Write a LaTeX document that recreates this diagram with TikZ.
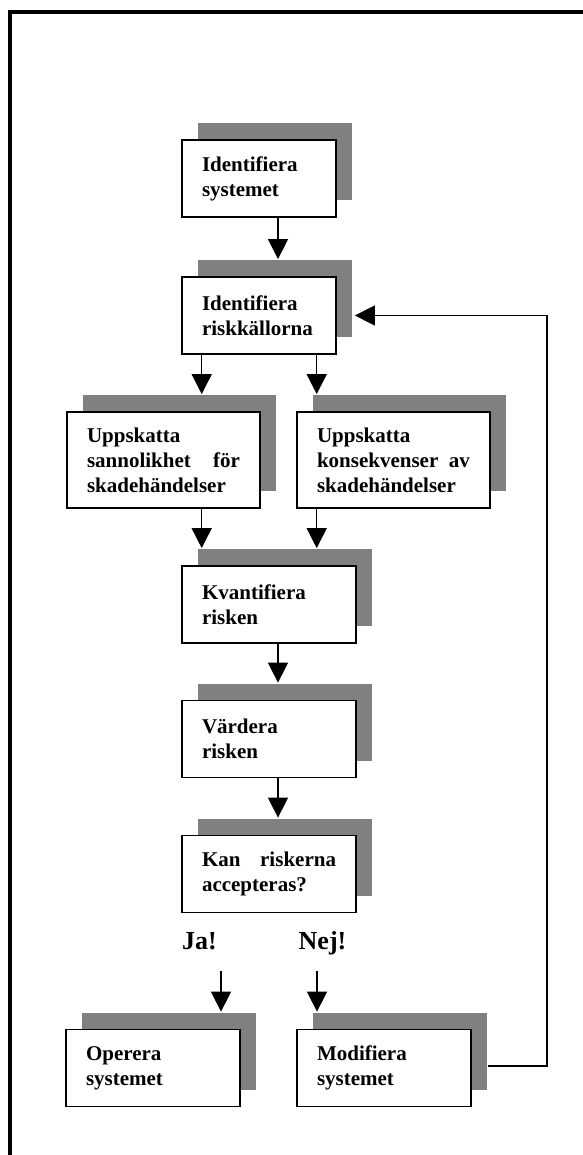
\documentclass[tikz,border=0pt]{standalone}
\usepackage{fontspec}
\setmainfont{Liberation Serif}
\usetikzlibrary{arrows.meta,calc,shadows}
\definecolor{shade}{RGB}{128,128,128}
\tikzset{
  stepbox/.style={draw, line width=1.8pt, fill=white, inner xsep=20pt, inner ysep=0pt,
    align=left, font=\fontsize{21}{25}\selectfont\bfseries, minimum height=77pt,
    general shadow={fill=shade, shadow xshift=16pt, shadow yshift=17pt}},
  answer/.style={font=\fontsize{26}{30}\selectfont\bfseries, inner sep=0pt},
  arr/.style={line width=1.5pt, -{Triangle[width=20pt,length=20pt]}},
}
\begin{document}
\begin{tikzpicture}[x=1pt,y=-1pt]
\useasboundingbox (0,0) rectangle (582,1155);
\fill[white] (0,0) rectangle (582,1155);
% outer frame
\draw[line width=3.5pt] (10,1170) -- (10,12) -- (600,12);

% process steps
\node[stepbox, text width=114pt] (idsys) at (259,178.5) {Identifiera\\systemet};
\node[stepbox, text width=114pt] (idrisk) at (259,315.5) {Identifiera\\riskkällorna};
\node[stepbox, text width=153pt, minimum height=96pt] (prob) at (163.5,460)
  {Uppskatta\\sannolikhet\hfill för\\skadehändelser};
\node[stepbox, text width=153pt, minimum height=96pt] (cons) at (393.5,460)
  {Uppskatta\\konsekvenser\hfill av\\skadehändelser};
\node[stepbox, text width=134pt] (quant) at (269,604.5) {Kvantifiera\\risken};
\node[stepbox, text width=134pt] (eval) at (269,739) {Värdera\\risken};
\node[stepbox, text width=134pt] (accept) at (269,874) {Kan\hfill riskerna\\accepteras?};
\node[stepbox, text width=134pt] (operate) at (153,1068) {Operera\\systemet};
\node[stepbox, text width=134pt] (modify) at (384,1068) {Modifiera\\systemet};

% decision answers
\node[answer, anchor=base west] (yes) at (182,949) {Ja!};
\node[answer, anchor=base west] (no) at (298.5,949) {Nej!};

% connector columns
\coordinate (midx) at (278,0);
\coordinate (lx) at (201.7,0);
\coordinate (rx) at (316.7,0);
\coordinate (yesx) at (221,971);
\coordinate (nox) at (317,971);
\coordinate (loopx) at (547,0);

\draw[arr] (idsys.south -| midx) -- ($(idrisk.north -| midx)+(0,-17)$);
\draw[arr] (idrisk.south -| lx) -- ($(prob.north -| lx)+(0,-17)$);
\draw[arr] (idrisk.south -| rx) -- ($(cons.north -| rx)+(0,-17)$);
\draw[arr] (prob.south -| lx) -- ($(quant.north -| lx)+(0,-17)$);
\draw[arr] (cons.south -| rx) -- ($(quant.north -| rx)+(0,-17)$);
\draw[arr] (quant.south -| midx) -- ($(eval.north -| midx)+(0,-17)$);
\draw[arr] (eval.south -| midx) -- ($(accept.north -| midx)+(0,-17)$);
\draw[arr] (yesx) -- ($(operate.north -| yesx)+(0,-17)$);
\draw[arr] (nox) -- ($(modify.north -| nox)+(0,-17)$);
% feedback loop
\draw[arr] ($(modify.east)+(16,-2)$) -| (loopx |- idrisk.east) -- ($(idrisk.east)+(18,0)$);
\end{tikzpicture}
\end{document}
